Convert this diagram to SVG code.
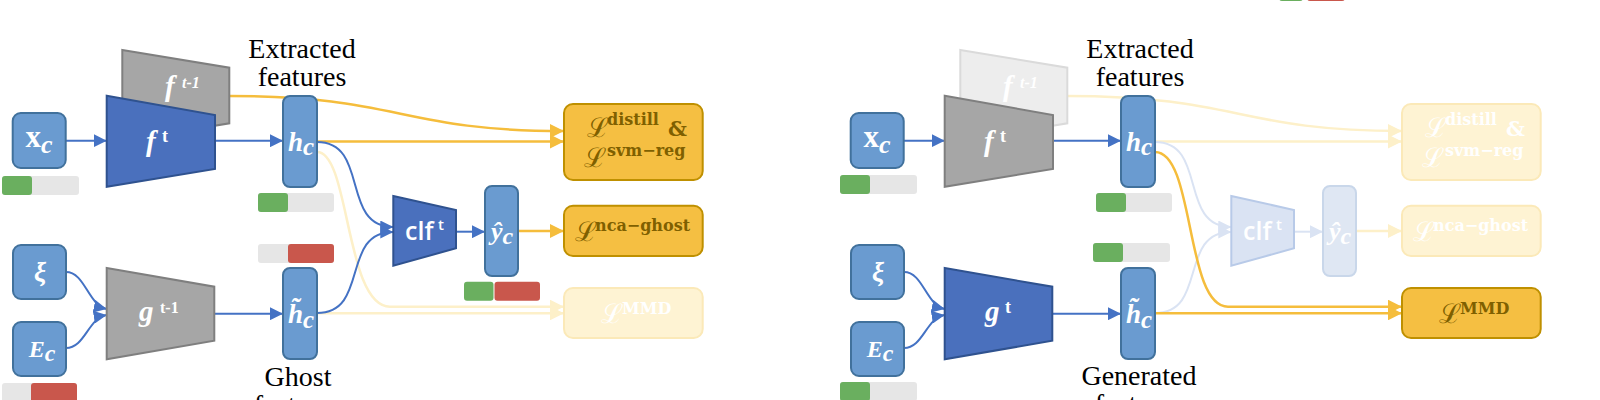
<svg xmlns="http://www.w3.org/2000/svg" width="1600" height="400" viewBox="0 0 1600 400">
<style>
.bx{fill:#6a9bd0;stroke:#41719c;stroke-width:2}
.bxf{fill:#dfe7f3;stroke:#c9d7ea;stroke-width:2}
.tb{fill:#4a70bd;stroke:#2f528f;stroke-width:2}
.tg{fill:#a6a6a6;stroke:#7f7f7f;stroke-width:2}
.tgf{fill:#ededed;stroke:#dadada;stroke-width:2}
.tbf{fill:#dae3f3;stroke:#b8cae8;stroke-width:2}
.ly{fill:#f5bf42;stroke:#bf9000;stroke-width:2}
.lyf{fill:#fef3d3;stroke:#fbe9b8;stroke-width:2}
.gy{fill:#e6e6e6}.gn{fill:#6aaf5f}.rd{fill:#c9574c}
.cb{stroke:#4472c4;stroke-width:2;fill:none;marker-end:url(#ab)}
.cbf{stroke:#dae3f3;stroke-width:2;fill:none;marker-end:url(#abf)}
.cy{stroke:#f5bd3c;stroke-width:2.5;fill:none;marker-end:url(#ay)}
.cyf{stroke:#fdf0c9;stroke-width:2.5;fill:none;marker-end:url(#ayf)}
.m{font-family:"Liberation Serif",serif;font-style:italic;font-weight:bold;fill:#fff}
.cl{font-family:"Open Sans","Liberation Sans",sans-serif;font-weight:600;fill:#fff}
.lt{font-family:"DejaVu Serif",serif;fill:#7f6000}
.lw{font-family:"DejaVu Serif",serif;fill:#fff}
.sc{font-size:27px}
.sup{font-weight:bold;font-size:16px}
.cap{font-family:"Liberation Serif",serif;font-size:28px;fill:#000;text-anchor:middle}
</style>
<defs>
<marker id="ab" markerUnits="userSpaceOnUse" markerWidth="14" markerHeight="13" refX="13" refY="6.5" orient="auto"><path d="M0,0 L13,6.5 L0,13 z" fill="#4472c4"/></marker>
<marker id="abf" markerUnits="userSpaceOnUse" markerWidth="14" markerHeight="13" refX="13" refY="6.5" orient="auto"><path d="M0,0 L13,6.5 L0,13 z" fill="#dae3f3"/></marker>
<marker id="ay" markerUnits="userSpaceOnUse" markerWidth="15" markerHeight="14" refX="14" refY="7" orient="auto"><path d="M0,0 L14,7 L0,14 z" fill="#f5bd3c"/></marker>
<marker id="ayf" markerUnits="userSpaceOnUse" markerWidth="15" markerHeight="14" refX="14" refY="7" orient="auto"><path d="M0,0 L14,7 L0,14 z" fill="#fdf0c9"/></marker>
</defs>

<g id="top-fragment"><rect class="gn" x="1279" y="-18" width="24" height="19" rx="3"/><rect class="rd" x="1307" y="-18" width="38" height="19" rx="3"/></g>

<g id="connectors">
<path class="cy" d="M229,96 C400,96 400,131 564,131"/>
<path class="cy" d="M317,141.5 L564,141.5"/>
<path class="cyf" d="M317,152 C350,152 345,306.7 390,306.7 L564,306.7"/>
<path class="cyf" d="M317,313.3 L564,313.3"/>
<path class="cy" d="M518,231 L564,231"/>
<path class="cb" d="M66,140.7 L106.7,140.7"/>
<path class="cb" d="M215,140.7 L283,140.7"/>
<path class="cb" d="M66,272 C85,272 88,305 106.7,309"/>
<path class="cb" d="M66,348 C85,348 88,318 106.7,315"/>
<path class="cb" d="M214.3,313.7 L283,313.7"/>
<path class="cb" d="M317,142 C370,142 340,227 393.3,227"/>
<path class="cb" d="M317,313 C370,313 340,232 393.3,232"/>
<path class="cb" d="M456,231.7 L485,231.7"/>
<path class="cyf" d="M1067,96 C1238,96 1238,131 1402,131"/>
<path class="cyf" d="M1155,141.5 L1402,141.5"/>
<path class="cyf" d="M1356,231 L1402,231"/>
<path class="cbf" d="M1155,142 C1208,142 1178,227 1231.3,227"/>
<path class="cbf" d="M1155,313 C1208,313 1178,232 1231.3,232"/>
<path class="cbf" d="M1294,231.7 L1323,231.7"/>
<path class="cy" d="M1155,152 C1195,152 1185,306.7 1228,306.7 L1402,306.7"/>
<path class="cy" d="M1155,313.3 L1402,313.3"/>
<path class="cb" d="M904,140.7 L944.7,140.7"/>
<path class="cb" d="M1053,140.7 L1121,140.7"/>
<path class="cb" d="M904,272 C923,272 926,305 944.7,309"/>
<path class="cb" d="M904,348 C923,348 926,318 944.7,315"/>
<path class="cb" d="M1052.3,313.7 L1121,313.7"/>
</g>

<g id="L-xc"><rect class="bx" x="12.7" y="113" width="53" height="55" rx="8"/>
<text class="m" x="39" y="147" text-anchor="middle"><tspan font-style="normal" font-size="31">x</tspan><tspan font-size="26" dy="6">c</tspan></text></g>
<g id="L-xc-bar"><rect class="gy" x="2" y="176" width="77" height="19" rx="3"/><rect class="gn" x="2" y="176" width="30" height="19" rx="3"/></g>
<g id="L-ftm1"><polygon class="tg" points="122.3,50 229.3,67.7 229.3,123.3 122.3,141"/>
<text class="m"><tspan x="165" y="96" font-size="29">f</tspan><tspan x="182" y="88" font-size="16">t-1</tspan></text></g>
<g id="L-ft"><polygon class="tb" points="106.7,95.7 215,115 215,169 106.7,186.7"/>
<text class="m"><tspan x="146" y="151" font-size="29">f</tspan><tspan x="162" y="142" font-size="18" font-style="normal">t</tspan></text></g>
<g id="L-hc"><rect class="bx" x="283" y="96" width="34" height="91" rx="7"/>
<text class="m" x="301" y="151" text-anchor="middle"><tspan font-size="27">h</tspan><tspan font-size="25" dy="4">c</tspan></text></g>
<g id="L-hc-bar"><rect class="gy" x="258" y="193" width="76" height="19" rx="3"/><rect class="gn" x="258" y="193" width="30" height="19" rx="3"/></g>
<g id="L-xi"><rect class="bx" x="13" y="245" width="53" height="54" rx="8"/>
<text class="m" x="40" y="281" font-size="27" text-anchor="middle">ξ</text></g>
<g id="L-Ec"><rect class="bx" x="13" y="322" width="53" height="54" rx="8"/>
<text class="m" x="42" y="357" text-anchor="middle"><tspan font-size="24">E</tspan><tspan font-size="24" dy="4">c</tspan></text></g>
<g id="L-Ec-bar"><rect class="gy" x="2" y="383" width="75" height="19" rx="3"/><rect class="rd" x="31" y="383" width="46" height="19" rx="3"/></g>
<g id="L-gtm1"><polygon class="tg" points="106.7,268 214.3,286.7 214.3,340.7 106.7,359.3"/>
<text class="m"><tspan x="139" y="321" font-size="29">g</tspan><tspan x="160" y="313" font-size="16" font-style="normal">t-1</tspan></text></g>
<g id="L-htc-bar"><rect class="gy" x="258" y="244" width="76" height="19" rx="3"/><rect class="rd" x="288" y="244" width="46" height="19" rx="3"/></g>
<g id="L-htc"><rect class="bx" x="283" y="268" width="34" height="91" rx="7"/>
<text class="m" x="301" y="323" text-anchor="middle"><tspan font-size="27">h̃</tspan><tspan font-size="25" dy="5">c</tspan></text></g>
<g id="L-clf"><polygon class="tb" points="393.3,196 456,210 456,248.3 393.3,265.7"/>
<text class="cl"><tspan x="405" y="240" font-size="25">clf</tspan><tspan x="438" y="230" font-size="15">t</tspan></text></g>
<g id="L-yc"><rect class="bx" x="485" y="186" width="33" height="90" rx="7"/>
<text class="m" x="502" y="240" text-anchor="middle"><tspan font-size="26">ŷ</tspan><tspan font-size="24" dy="4">c</tspan></text></g>
<g id="L-yc-bar"><rect class="gn" x="464" y="281.7" width="29.5" height="19" rx="3"/><rect class="rd" x="494.5" y="281.7" width="45.5" height="19" rx="3"/></g>
<g id="L-distill"><rect class="ly" x="564" y="104" width="138.7" height="76" rx="9"/>
<text class="lt"><tspan class="sc" x="587" y="137">ℒ</tspan><tspan class="sup" x="607" y="125">distill</tspan><tspan x="668" y="136" font-size="21" font-weight="bold">&amp;</tspan></text>
<text class="lt"><tspan class="sc" x="584" y="167">ℒ</tspan><tspan class="sup" x="607" y="156">svm−reg</tspan></text></g>
<g id="L-nca"><rect class="ly" x="564" y="205.7" width="138.7" height="50.3" rx="9"/>
<text class="lt"><tspan class="sc" x="575" y="241">ℒ</tspan><tspan class="sup" x="595" y="231">nca−ghost</tspan></text></g>
<g id="L-mmd"><rect class="lyf" x="564" y="288" width="138.7" height="50" rx="9"/>
<text class="lw"><tspan class="sc" x="601" y="323">ℒ</tspan><tspan class="sup" x="622" y="314">MMD</tspan></text></g>
<g id="L-captions"><text class="cap" x="302" y="58">Extracted</text><text class="cap" x="302" y="86">features</text>
<text class="cap" x="298" y="386">Ghost</text><text class="cap" x="298" y="414">features</text></g>

<g id="R-xc"><rect class="bx" x="850.7" y="113" width="53" height="55" rx="8"/>
<text class="m" x="877" y="147" text-anchor="middle"><tspan font-style="normal" font-size="31">x</tspan><tspan font-size="26" dy="6">c</tspan></text></g>
<g id="R-xc-bar"><rect class="gy" x="840" y="175" width="77" height="19" rx="3"/><rect class="gn" x="840" y="175" width="30" height="19" rx="3"/></g>
<g id="R-ftm1"><polygon class="tgf" points="960.3,50 1067.3,67.7 1067.3,123.3 960.3,141"/>
<text class="m"><tspan x="1003" y="96" font-size="29">f</tspan><tspan x="1020" y="88" font-size="16">t-1</tspan></text></g>
<g id="R-ft"><polygon class="tg" points="944.7,95.7 1053,115 1053,169 944.7,186.7"/>
<text class="m"><tspan x="984" y="151" font-size="29">f</tspan><tspan x="1000" y="142" font-size="18" font-style="normal">t</tspan></text></g>
<g id="R-hc"><rect class="bx" x="1121" y="96" width="34" height="91" rx="7"/>
<text class="m" x="1139" y="151" text-anchor="middle"><tspan font-size="27">h</tspan><tspan font-size="25" dy="4">c</tspan></text></g>
<g id="R-hc-bar"><rect class="gy" x="1096" y="193" width="76" height="19" rx="3"/><rect class="gn" x="1096" y="193" width="30" height="19" rx="3"/></g>
<g id="R-xi"><rect class="bx" x="851" y="245" width="53" height="54" rx="8"/>
<text class="m" x="878" y="281" font-size="27" text-anchor="middle">ξ</text></g>
<g id="R-Ec"><rect class="bx" x="851" y="322" width="53" height="54" rx="8"/>
<text class="m" x="880" y="357" text-anchor="middle"><tspan font-size="24">E</tspan><tspan font-size="24" dy="4">c</tspan></text></g>
<g id="R-Ec-bar"><rect class="gy" x="840" y="382" width="77" height="19" rx="3"/><rect class="gn" x="840" y="382" width="30" height="19" rx="3"/></g>
<g id="R-gt"><polygon class="tb" points="944.7,268 1052.3,286.7 1052.3,340.7 944.7,359.3"/>
<text class="m"><tspan x="985" y="321" font-size="29">g</tspan><tspan x="1005" y="313" font-size="18" font-style="normal">t</tspan></text></g>
<g id="R-htc-bar"><rect class="gy" x="1093" y="243" width="77" height="19" rx="3"/><rect class="gn" x="1093" y="243" width="30" height="19" rx="3"/></g>
<g id="R-htc"><rect class="bx" x="1121" y="268" width="34" height="91" rx="7"/>
<text class="m" x="1139" y="323" text-anchor="middle"><tspan font-size="27">h̃</tspan><tspan font-size="25" dy="5">c</tspan></text></g>
<g id="R-clf"><polygon class="tbf" points="1231.3,196 1294,210 1294,248.3 1231.3,265.7"/>
<text class="cl"><tspan x="1243" y="240" font-size="25">clf</tspan><tspan x="1276" y="230" font-size="15">t</tspan></text></g>
<g id="R-yc"><rect class="bxf" x="1323" y="186" width="33" height="90" rx="7"/>
<text class="m" x="1340" y="240" text-anchor="middle"><tspan font-size="26">ŷ</tspan><tspan font-size="24" dy="4">c</tspan></text></g>
<g id="R-distill"><rect class="lyf" x="1402" y="104" width="138.7" height="76" rx="9"/>
<text class="lw"><tspan class="sc" x="1425" y="137">ℒ</tspan><tspan class="sup" x="1445" y="125">distill</tspan><tspan x="1506" y="136" font-size="21" font-weight="bold">&amp;</tspan></text>
<text class="lw"><tspan class="sc" x="1422" y="167">ℒ</tspan><tspan class="sup" x="1445" y="156">svm−reg</tspan></text></g>
<g id="R-nca"><rect class="lyf" x="1402" y="205.7" width="138.7" height="50.3" rx="9"/>
<text class="lw"><tspan class="sc" x="1413" y="241">ℒ</tspan><tspan class="sup" x="1433" y="231">nca−ghost</tspan></text></g>
<g id="R-mmd"><rect class="ly" x="1402" y="288" width="138.7" height="50" rx="9"/>
<text class="lt"><tspan class="sc" x="1439" y="323">ℒ</tspan><tspan class="sup" x="1460" y="314">MMD</tspan></text></g>
<g id="R-captions"><text class="cap" x="1140" y="58">Extracted</text><text class="cap" x="1140" y="86">features</text>
<text class="cap" x="1139" y="385">Generated</text><text class="cap" x="1139" y="413">features</text></g>
</svg>
